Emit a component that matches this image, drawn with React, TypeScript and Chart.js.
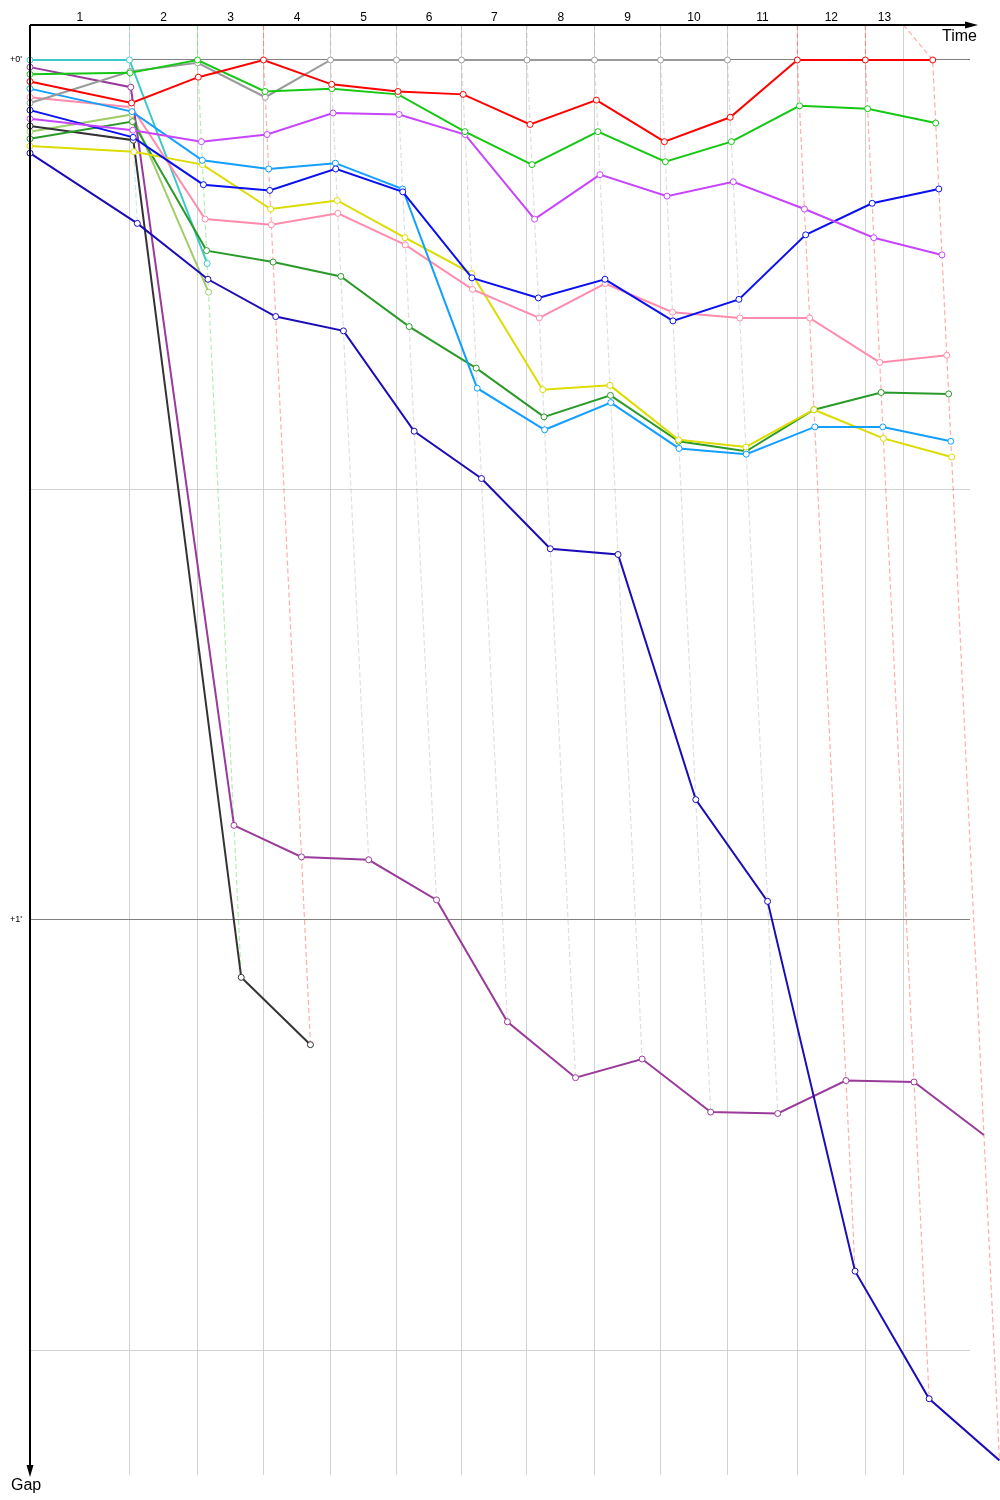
import React, { useEffect, useRef } from 'react';
import { Chart, registerables } from 'chart.js';

Chart.register(...registerables);

// Lap numbers shown along the top axis
const LAP_LABELS = ['1', '2', '3', '4', '5', '6', '7', '8', '9', '10', '11', '12', '13'];
// Leader crossing times (seconds since start) at the end of each lap (index 0 = start)
const LEADER_TIMES = [0, 145.6, 245.1, 341.7, 439.8, 536.3, 631.5, 727.3, 826.1, 922.7, 1020.7, 1122.9, 1222.4, 1321.0];
// Times of the vertical lap grid lines (last one = end of race time)
const GRID_TIMES = [0, 145.6, 245.1, 341.7, 439.8, 536.3, 631.5, 727.3, 826.1, 922.7, 1020.7, 1122.9, 1222.4, 1278.3];
// Gap axis ticks (seconds)
const GAP_TICKS = [0, 30, 60, 90];

// Gaps to leader (seconds), per lap (index 0 = start)
const RED_GAPS = [1.5, 3.0, 1.2, 0, 1.7, 2.2, 2.4, 4.5, 2.8, 5.7, 4.0, 0, 0, 0];
const GREEN_GAPS = [1.0, 0.9, 0, 2.2, 2.0, 2.4, 5.0, 7.3, 5.0, 7.1, 5.7, 3.2, 3.4, 4.4];
const GRAY_GAPS = [3.0, 0.8, 0.2, 2.6, 0, 0, 0, 0, 0, 0, 0];
const VIOLET_GAPS = [4.1, 4.9, 5.7, 5.2, 3.7, 3.8, 5.2, 11.1, 8.0, 9.5, 8.5, 10.4, 12.4, 13.6];
const BLUE_GAPS = [3.5, 5.4, 8.7, 9.1, 7.6, 9.2, 15.2, 16.6, 15.3, 18.2, 16.7, 12.2, 10.0, 9.0];
const LIGHTBLUE_GAPS = [2.0, 3.6, 7.0, 7.6, 7.2, 9.0, 22.9, 25.8, 23.9, 27.1, 27.5, 25.6, 25.6, 26.6];
const PINK_GAPS = [2.6, 3.3, 11.1, 11.5, 10.7, 12.9, 16.0, 18.0, 15.6, 17.6, 18.0, 18.0, 21.1, 20.6];
const YELLOW_GAPS = [6.0, 6.4, 7.3, 10.4, 9.8, 12.4, 14.9, 23.0, 22.7, 26.5, 27.0, 24.4, 26.4, 27.7];
const DARKGREEN_GAPS = [5.5, 4.3, 13.3, 14.1, 15.1, 18.6, 21.5, 24.9, 23.4, 26.6, 27.3, 24.4, 23.2, 23.3];
const NAVY_GAPS = [6.5, 11.4, 15.3, 17.9, 18.9, 25.9, 29.2, 34.1, 34.5, 51.6, 58.7, 84.5, 93.4, 97.7];
const PURPLE_GAPS = [0.5, 1.9, 53.4, 55.6, 55.8, 58.6, 67.1, 71.0, 69.7, 73.4, 73.5, 71.2, 71.3, 75.0];
const BLACK_GAPS = [4.6, 5.6, 64.0, 68.7];
const CYAN_GAPS = [0, 0, 14.2];
const OLIVE_GAPS = [5.0, 3.8, 16.2];

const DRIVERS = [
  { color: '#ff0000', gaps: RED_GAPS },
  { color: '#14c814', gaps: GREEN_GAPS },
  { color: '#9a9a9a', gaps: GRAY_GAPS },
  { color: '#c845ff', gaps: VIOLET_GAPS },
  { color: '#0a10f0', gaps: BLUE_GAPS },
  { color: '#129fff', gaps: LIGHTBLUE_GAPS },
  { color: '#ff8cac', gaps: PINK_GAPS },
  { color: '#dcdc00', gaps: YELLOW_GAPS },
  { color: '#2a9a2a', gaps: DARKGREEN_GAPS },
  { color: '#1c0cb8', gaps: NAVY_GAPS },
  { color: '#9a3a9a', gaps: PURPLE_GAPS },
  { color: '#333333', gaps: BLACK_GAPS },
  { color: '#3cc8c8', gaps: CYAN_GAPS },
  { color: '#a0cc6a', gaps: OLIVE_GAPS },
];

const X_MAX = 1375.6;
const Y_MIN = -2.44;
const Y_MAX = 98.72;
const FONT = '"Liberation Sans", Arial, sans-serif';

function fade(hex: string, a: number) {
  const h = hex.replace('#', '');
  const r = parseInt(h.slice(0, 2), 16);
  const g = parseInt(h.slice(2, 4), 16);
  const b = parseInt(h.slice(4, 6), 16);
  return `rgba(${r},${g},${b},${a})`;
}

const axesPlugin = {
  id: 'gapAxes',
  afterDraw(chart: any) {
    const { ctx, chartArea } = chart;
    const { left, top, right, bottom } = chartArea;
    ctx.save();
    ctx.strokeStyle = '#000';
    ctx.fillStyle = '#000';
    ctx.lineWidth = 2;
    // top time axis
    ctx.beginPath();
    ctx.moveTo(left, top);
    ctx.lineTo(right - 4, top);
    ctx.stroke();
    ctx.beginPath();
    ctx.moveTo(right + 8, top);
    ctx.lineTo(right - 5, top - 3.5);
    ctx.lineTo(right - 5, top + 3.5);
    ctx.closePath();
    ctx.fill();
    // left gap axis
    ctx.beginPath();
    ctx.moveTo(left, top);
    ctx.lineTo(left, bottom - 8);
    ctx.stroke();
    ctx.beginPath();
    ctx.moveTo(left, bottom + 2);
    ctx.lineTo(left - 3.5, bottom - 10);
    ctx.lineTo(left + 3.5, bottom - 10);
    ctx.closePath();
    ctx.fill();
    ctx.font = `16px ${FONT}`;
    ctx.textAlign = 'right';
    ctx.textBaseline = 'alphabetic';
    ctx.fillText('Time', right + 7, top + 16);
    ctx.textAlign = 'left';
    ctx.fillText('Gap', left - 19, bottom + 15);
    ctx.restore();
  },
};

export default function App() {
  const ref = useRef<HTMLCanvasElement | null>(null);

  useEffect(() => {
    if (!ref.current) return;

    const lapLines: any[] = [];
    for (let lap = 1; lap < LEADER_TIMES.length; lap++) {
      let minG = Infinity;
      let maxG = -Infinity;
      let leader = DRIVERS[0];
      DRIVERS.forEach((d) => {
        const g = d.gaps[lap];
        if (g === undefined) return;
        if (g < minG) { minG = g; leader = d; }
        if (g > maxG) maxG = g;
      });
      lapLines.push({
        data: [
          { x: GRID_TIMES[lap], y: Y_MIN },
          { x: LEADER_TIMES[lap], y: 0 },
          { x: LEADER_TIMES[lap] + maxG, y: maxG },
        ],
        borderColor: fade(leader.color, 0.32),
        borderWidth: 1.2,
        borderDash: [5, 3],
        pointRadius: 0,
        fill: false,
        tension: 0,
        clip: false,
        order: 10,
      });
    }

    const driverSets = DRIVERS.map((d) => ({
      data: d.gaps.map((g, i) => ({ x: i === 0 ? 0 : LEADER_TIMES[i] + g, y: g })),
      borderColor: d.color,
      borderWidth: 2,
      pointRadius: 3,
      pointBorderWidth: 1,
      pointBorderColor: d.color,
      pointBackgroundColor: '#ffffff',
      fill: false,
      tension: 0,
      clip: false,
      order: 0,
    }));

    const chart = new Chart(ref.current, {
      type: 'line',
      data: { datasets: [...driverSets, ...lapLines] as any },
      options: {
        responsive: false,
        animation: false,
        devicePixelRatio: 1,
        layout: { padding: { left: 0, right: 30, top: 0, bottom: 0 } },
        plugins: { legend: { display: false }, tooltip: { enabled: false } },
        scales: {
          x: {
            type: 'linear',
            position: 'top',
            min: 0,
            max: X_MAX,
            afterFit: (s: any) => { s.height = 25; },
            afterBuildTicks: (s: any) => {
              s.ticks = LAP_LABELS.map((_, i) => ({ value: (GRID_TIMES[i] + GRID_TIMES[i + 1]) / 2 }));
            },
            ticks: {
              autoSkip: false,
              maxRotation: 0,
              padding: 0,
              color: '#000',
              font: { size: 12, family: FONT },
              callback: (_v: any, i: number) => LAP_LABELS[i],
            },
            grid: { display: false, drawTicks: false },
            border: { display: false },
          },
          x2: {
            type: 'linear',
            axis: 'x',
            position: 'bottom',
            min: 0,
            max: X_MAX,
            afterFit: (s: any) => { s.height = 25; },
            afterBuildTicks: (s: any) => { s.ticks = GRID_TIMES.map((v) => ({ value: v })); },
            ticks: { display: false },
            grid: { color: '#d2d2d2', drawTicks: false, lineWidth: 1 },
            border: { display: false },
          },
          y: {
            type: 'linear',
            reverse: true,
            min: Y_MIN,
            max: Y_MAX,
            afterFit: (s: any) => { s.width = 30; },
            afterBuildTicks: (s: any) => { s.ticks = GAP_TICKS.map((v) => ({ value: v })); },
            ticks: {
              autoSkip: false,
              padding: 8,
              color: '#000',
              font: { size: 9, family: FONT },
              callback: (v: any) => (Number(v) % 60 === 0 ? `+${Number(v) / 60}'` : ''),
            },
            grid: {
              drawTicks: false,
              lineWidth: 1,
              color: (c: any) => (c.tick && c.tick.value % 60 === 0 ? '#808080' : '#d2d2d2'),
            },
            border: { display: false },
          },
        },
      },
      plugins: [axesPlugin],
    });

    return () => chart.destroy();
  }, []);

  return (
    <div style={{ position: 'absolute', left: 0, top: 0, width: 1000, height: 1500, background: '#fff' }}>
      <canvas ref={ref} width={1000} height={1500} style={{ display: 'block', width: 1000, height: 1500 }} />
    </div>
  );
}
